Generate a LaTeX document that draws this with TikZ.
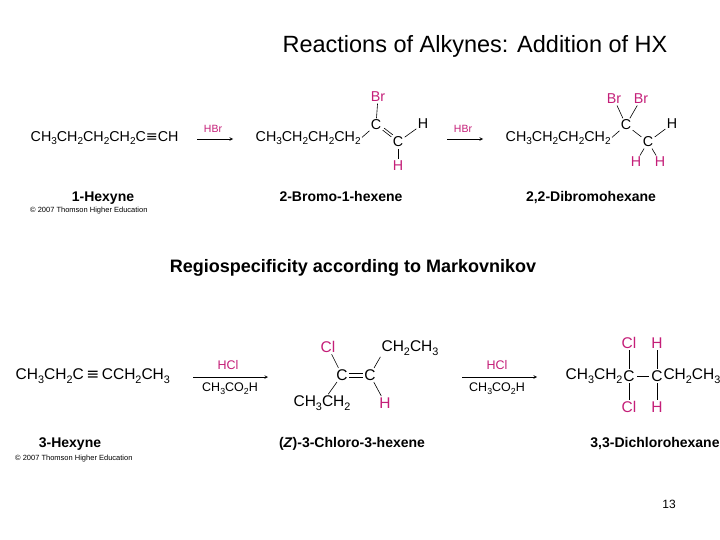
\documentclass[tikz,border=0pt]{standalone}
\usepackage{fontspec}
\setmainfont{Liberation Sans}
\newfontfamily\dv{DejaVu Sans}
\definecolor{mag}{RGB}{196,30,120}
\newcommand{\sbs}[1]{\raisebox{-0.45ex}{\fontsize{0.7em}{1em}\selectfont #1}}
\newcommand{\trip}{{\dv ≡}}
\begin{document}
\begin{tikzpicture}[x=1pt,y=-1pt,
  chem/.style={inner sep=0.5pt,font=\fontsize{14.3}{14.3}\selectfont},
  chemb/.style={inner sep=0.5pt,font=\fontsize{15.5}{15.5}\selectfont},
  hal/.style={chem,text=mag},
  halb/.style={chemb,text=mag},
  rg/.style={inner sep=0pt,font=\fontsize{10.5}{10.5}\selectfont},
  rgb/.style={inner sep=0pt,font=\fontsize{12.5}{12.5}\selectfont},
  cname/.style={inner sep=0pt,anchor=base,font=\bfseries\fontsize{14}{14}\selectfont},
  cpy/.style={inner sep=0pt,font=\fontsize{7.5}{8}\selectfont,anchor=west},
  bond/.style={line width=0.6pt,shorten <=1pt,shorten >=1pt},
  rxn/.style={->,>=stealth,line width=0.6pt}]
\useasboundingbox (0,0) rectangle (720,540);
\node[font=\fontsize{23.5}{23.5}\selectfont] (title) at (475,46) {Reactions of Alkynes: Addition of HX};
% row 1
\node[chem,anchor=west] (hex) at (30,138) {CH\sbs3CH\sbs2CH\sbs2CH\sbs2C\trip CH};
\coordinate (a1s) at (197,139); \coordinate (a1e) at (233,139);
\draw[rxn] (a1s) -- (a1e);
\node[rg,text=mag] (hbr1) at (213,129) {HBr};
\node[chem,anchor=west] (bb) at (255,138) {CH\sbs3CH\sbs2CH\sbs2CH\sbs2};
\node[chem] (c1) at (376,125) {C};
\node[hal] (br1) at (378,97) {Br};
\node[chem] (c2) at (398,142) {C};
\node[chem] (h1) at (423,124) {H};
\node[hal] (h2) at (398,166) {H};
\draw[bond] (bb.east) -- (c1);
\draw[bond] (br1) -- (c1);
\draw[bond] (c1) -- (c2);
\draw[bond,transform canvas={shift={(1.5,-2)}}] (c1) -- (c2);
\draw[bond] (c2) -- (h1);
\draw[bond] (c2) -- (h2);
\coordinate (a2s) at (447,139); \coordinate (a2e) at (483,139);
\draw[rxn] (a2s) -- (a2e);
\node[rg,text=mag] (hbr2) at (463,129) {HBr};
\node[chem,anchor=west] (db) at (505,138) {CH\sbs3CH\sbs2CH\sbs2CH\sbs2};
\node[chem] (d1) at (626,125) {C};
\node[hal] (br2) at (614,99) {Br};
\node[hal] (br3) at (641,99) {Br};
\node[chem] (d2) at (648,142) {C};
\node[chem] (h3) at (672,124) {H};
\node[hal] (h4) at (636,162) {H};
\node[hal] (h5) at (660,162) {H};
\draw[bond] (db.east) -- (d1);
\draw[bond] (br2) -- (d1); \draw[bond] (br3) -- (d1);
\draw[bond] (d1) -- (d2);
\draw[bond] (d2) -- (h3); \draw[bond] (d2) -- (h4); \draw[bond] (d2) -- (h5);
\node[cname] (n1) at (103,202) {1-Hexyne};
\node[cname] (n2) at (341,202) {2-Bromo-1-hexene};
\node[cname] (n3) at (591,202) {2,2-Dibromohexane};
\node[cpy] (cp1) at (30,211) {© 2007 Thomson Higher Education};
\node[font=\bfseries\fontsize{18}{18}\selectfont] (reg) at (353,268) {Regiospecificity according to Markovnikov};
% row 2
\node[chemb,anchor=west] (hx3) at (15,376) {CH\sbs3CH\sbs2C\,\trip\,CCH\sbs2CH\sbs3};
\coordinate (b1s) at (193,377); \coordinate (b1e) at (268,377);
\draw[rxn] (b1s) -- (b1e);
\node[rgb,text=mag] (hcl1) at (228,365) {HCl};
\node[rgb] (ac1) at (230,389) {CH\sbs3CO\sbs2H};
\node[chemb] (e1) at (342,375) {C};
\node[chemb] (e2) at (370,375) {C};
\draw[bond] ([yshift=-1.8]e1.east) -- ([yshift=-1.8]e2.west);
\draw[bond] ([yshift=1.8]e1.east) -- ([yshift=1.8]e2.west);
\node[halb] (cl1) at (328,347) {Cl};
\node[chemb] (et1) at (410,348) {CH\sbs2CH\sbs3};
\node[chemb] (et2) at (322,403) {CH\sbs3CH\sbs2};
\node[halb] (h6) at (385,403) {H};
\draw[bond] (cl1) -- (e1); \draw[bond] (et2) -- (e1);
\draw[bond] (et1.south west) -- (e2); \draw[bond] (h6) -- (e2);
\coordinate (b2s) at (462,377); \coordinate (b2e) at (537,377);
\draw[rxn] (b2s) -- (b2e);
\node[rgb,text=mag] (hcl2) at (497,365) {HCl};
\node[rgb] (ac2) at (497,389) {CH\sbs3CO\sbs2H};
\node[chemb] (f1) at (629,376) {C};
\node[chemb] (f2) at (657,376) {C};
\node[chemb,anchor=east,inner sep=0pt] (dl) at (f1.west) {CH\sbs3CH\sbs2};
\node[chemb,anchor=west,inner sep=0pt] (dr) at (f2.east) {CH\sbs2CH\sbs3};
\draw[bond,shorten <=2pt,shorten >=2pt] (f1) -- (f2);
\node[halb] (cl2) at (629,343) {Cl};
\node[halb] (h7) at (657,343) {H};
\node[halb] (cl3) at (629,407) {Cl};
\node[halb] (h8) at (657,407) {H};
\draw[bond] (cl2) -- (f1); \draw[bond] (cl3) -- (f1);
\draw[bond] (h7) -- (f2); \draw[bond] (h8) -- (f2);
\node[cname] (n4) at (70,447) {3-Hexyne};
\node[cname] (n5) at (352,447) {(\textit{Z})-3-Chloro-3-hexene};
\node[cname] (n6) at (655,447) {3,3-Dichlorohexane};
\node[cpy] (cp2) at (15,459) {© 2007 Thomson Higher Education};
\node[font=\fontsize{12}{12}\selectfont] (pg) at (669,504) {13};
\end{tikzpicture}
\end{document}
